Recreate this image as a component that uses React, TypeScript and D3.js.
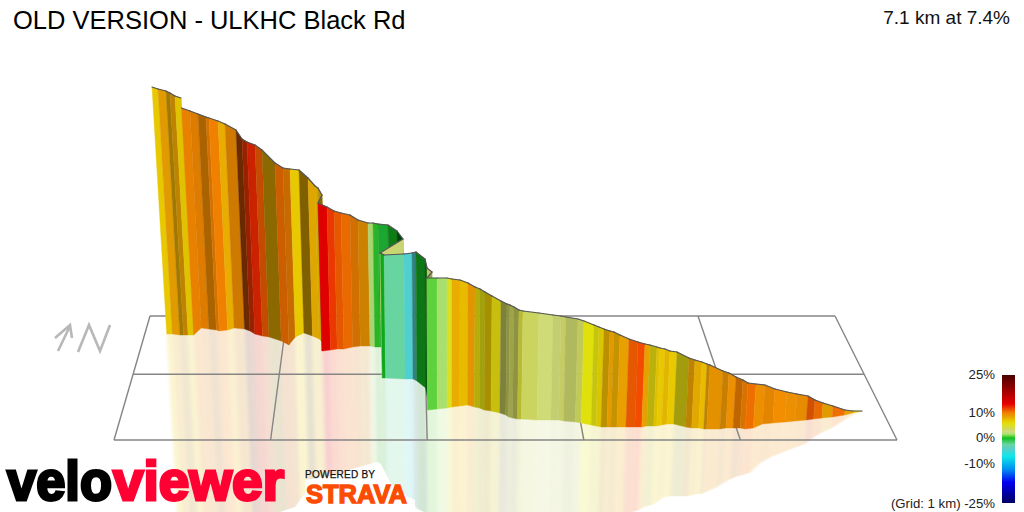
import React from "react";
import * as d3 from "d3";

// Projected profile: one entry per road sample along the climb
const edgeX = [152,158,166,170,175,181,181.5,190,198,206,209,218,225,236,242,247,255,262,275,283,290,299,308,315,318,322,318,327,334,341,350,358,368,373,378,388,397,403,380,380.5,384,404,412,416,425,427,432,427,437,447,452,460,468,475,480,485,492,501,507,510,514,519,523,539,553,561,566,578,584,594,599,604,610,614,620,629,638,645,650,657,660,665,670,677,689,695,702,707,710,723,729,736,743,748,756,765,775,787,797,808,815,823,833,845,853,862];
const edgeTop = [87,89,91,93,96,98,108,111,114,117,118,121,124,130,139,142,145,150,163,168,169,170,178,186,188,195,203,207,211,213,215,220,223,223,224,225,231,239,253,253,255,254,253,252,259,268,272,278,278,278,279,280,283,287,289,292,296,301,304,305,307,310,311,313,315,316,317,319,321,325,327,329,331,332,335,339,342,344,345,347,348,349,351,352,358,360,362,364,365,371,373,377,380,383,384,385,389,392,394,396,400,403,406,410,411,411];
const edgeBase = [334,334,335,335,335,335,335,328,329,330,331,330,328,329,331,334,336,337,341,345,337,333,336,339,342,344,351,350,349,349,347,346,346,347,347,347,347,347,347,378,378,379,379,381,388,400,405,410,409,408,407,406,405,407,408,410,411,413,415,417,418,419,419,420,420,420,421,422,423,425,426,427,427,427,427,427,427,427,426,426,426,425,424,424,427,428,428,429,429,429,428,428,428,429,428,424,423,422,421,420,419,418,417,415,413,411];
// Gradient (%) and side lighting of each strip between two samples
const grade = [7,8.5,8,8.5,7,7,9.8,9.8,9.5,10,10,8,9.5,11,12,12.5,11,8,10.5,10,7,8,8,7.5,8,8,13.5,12,11,10.5,10,9,1.8,0.3,-0.5,0,0,2.8,2.8,0,-2.5,-4.5,-4.5,0,0,3,3,0.8,1.5,5,8,7.5,8.8,6,5.5,7,6,3.5,3.5,3.5,3.5,4.5,3.4,2.8,2.8,3.2,3,3.5,5.5,5.5,6.5,7.8,8.5,8,8.5,11,11.5,8.5,6,7,7,7.5,7,6,8.5,8,7.5,8.5,9,9,9.3,10,10,10.5,9.3,9.5,9.5,9.3,9.3,11,10.5,8.5,10.5,8.5,7];
const light = [1,0.97,0.7,0.82,0.97,0.97,0.97,0.93,0.72,0.88,1,1,0.87,0.45,0.65,0.87,0.83,0.6,0.85,0.83,1,0.55,0.96,0.9,0.8,0.6,0.97,1,0.97,0.97,0.87,0.87,0.95,0.9,0.85,0.65,0.35,0.97,0.97,0.88,1,1,0.62,0.62,0.45,0.9,0.75,0.97,1,1,1,1,0.97,0.8,0.72,0.72,0.88,0.6,0.68,0.76,0.68,0.85,0.98,1,0.94,0.94,0.85,0.93,1,0.88,0.95,0.8,0.97,0.85,1,0.97,1.03,1,0.82,0.96,1,0.97,1,0.72,0.82,0.97,1,0.82,0.97,0.85,1,0.8,0.9,1,1,0.96,1.02,1,0.98,0.88,0.97,0.97,1,1,1];

// Colour ramp of the legend
const rampGrades = [25,17,13.5,12,10,8.5,7,5.5,3.5,2.5,1.5,0.8,0,-2.5,-4.5,-7,-12,-17,-25];
const rampColors = ["#4a0000","#b80000","#e60000","#ea3800","#f08000","#e8a000","#e8c800","#e0e010","#d0d860","#cfdc80","#a8e070","#60d840","#10c020","#68d4a0","#50d0d0","#10e8e8","#0090f0","#0000f0","#000060"];
const legendTicks = [25,10,0,-10,-25];

// Grid
const gridKm = [0,1,2,3,4,5];
const gridRows = [0,0.47,1];

const title = "OLD VERSION - ULKHC Black Rd";
const summary = "7.1 km at 7.4%";
const gridNote = "(Grid: 1 km)";

const W = 1024, H = 512;
const px = d3.scaleLinear([0, W], [0, W]);
const py = d3.scaleLinear([0, H], [0, H]);
const color = d3.scaleLinear<string>().domain(rampGrades).range(rampColors).interpolate(d3.interpolateRgb);
const legendY = d3.scaleLinear([25, 0, -25], [375, 438, 503]);
const rowY = d3.scaleLinear([0, 1], [316, 440]);
const backX = d3.scaleLinear([0, 5], [150, 835]);
const frontX = d3.scaleLinear([0, 5], [114, 897]);

// Perspective lean of a vertical post standing at x with height h
const lean = (x: number, h: number) => ((450 - x) * h) / 5000;
const line = d3.line<[number, number]>();

function shaded(g: number, l: number) {
  const c = d3.rgb(color(g));
  return d3.rgb(Math.min(255, c.r * l), Math.min(255, c.g * l), Math.min(255, c.b * l)).formatHex();
}

function App() {
  const strips = grade.map((g, i) => {
    const h0 = edgeBase[i] - edgeTop[i], h1 = edgeBase[i + 1] - edgeTop[i + 1];
    const tx0 = edgeX[i], tx1 = edgeX[i + 1];
    const bx0 = tx0 + lean(tx0, h0), bx1 = tx1 + lean(tx1, h1);
    const fill = shaded(g, light[i]);
    const wall: [number, number][] = [[px(tx0), py(edgeTop[i])], [px(tx1), py(edgeTop[i + 1])], [px(bx1), py(edgeBase[i + 1])], [px(bx0), py(edgeBase[i])]];
    const mirror: [number, number][] = [[px(bx0), py(edgeBase[i])], [px(bx1), py(edgeBase[i + 1])], [px(bx1 + lean(tx1, h1)), py(edgeBase[i + 1] + h1)], [px(bx0 + lean(tx0, h0)), py(edgeBase[i] + h0)]];
    const jump = Math.abs(tx1 - tx0) < 1 && Math.abs(edgeTop[i + 1] - edgeTop[i]) > 5;
    const ridge: [number, number][] = [[px(tx0), py(edgeTop[i])], [px(tx1), py(edgeTop[i + 1])]];
    return { fill, wall, mirror, ridge, jump };
  });
  const sans = "'Liberation Sans', Arial, sans-serif";
  return (
    <svg width={W} height={H} viewBox={`0 0 ${W} ${H}`} style={{ position: "fixed", left: 0, top: 0, background: "#fff" }}>
      <defs>
        <linearGradient id="ramp" x1="0" y1="0" x2="0" y2="1">
          {rampGrades.map((g, i) => (
            <stop key={g} offset={(legendY(g) - legendY(25)) / (legendY(-25) - legendY(25))} stopColor={rampColors[i]} />
          ))}
        </linearGradient>
        <filter id="soft" filterUnits="userSpaceOnUse" x={0} y={0} width={W} height={H}>
          <feGaussianBlur stdDeviation="0.7 0.2" />
        </filter>
        <filter id="softer" filterUnits="userSpaceOnUse" x={0} y={0} width={W} height={H}>
          <feGaussianBlur stdDeviation="1.4 0.3" />
        </filter>
      </defs>
      <text x={13} y={29} fontFamily={sans} fontSize={25.5} fill="#000">{title}</text>
      <text x={1010} y={24} textAnchor="end" fontFamily={sans} fontSize={19} fill="#111">{summary}</text>

      <g opacity={0.18} filter="url(#softer)">
        {strips.map((s, i) => (
          <path key={i} d={line(s.mirror)! + "Z"} fill={s.fill} stroke={s.fill} strokeWidth={0.4} />
        ))}
      </g>

      <g fill="none" stroke="#858585" strokeWidth={1.4}>
        {gridRows.map((r) => (
          <line key={r} x1={d3.interpolateNumber(backX(0), frontX(0))(r)} x2={d3.interpolateNumber(backX(5), frontX(5))(r)} y1={rowY(r)} y2={rowY(r)} />
        ))}
        {gridKm.map((k) => (
          <line key={k} x1={backX(k)} y1={rowY(0)} x2={frontX(k)} y2={rowY(1)} />
        ))}
      </g>

      <g filter="url(#soft)">
        {strips.map((s, i) => (
          <path key={i} d={line(s.wall)! + "Z"} fill={s.fill} stroke={s.fill} strokeWidth={0.4} />
        ))}
      </g>
      <g fill="none" stroke="#555" strokeWidth={1.2} strokeLinecap="round">
        {strips.map((s, i) => (s.jump ? null : <path key={i} d={line(s.ridge)!} />))}
      </g>

      <g fill="none" stroke="#b8b8b8" strokeWidth={2.6} strokeLinejoin="miter">
        <path d="M58 351L70 326M55 338L70 325L72 338" />
        <path d="M78 352L89 325L100 351L110 325" />
      </g>

      <rect x={1002} y={legendY(25)} width={13} height={legendY(-25) - legendY(25)} fill="url(#ramp)" />
      {legendTicks.map((t) => (
        <text key={t} x={995} y={legendY(t) + (t === -25 ? 5 : 4)} textAnchor="end" fontFamily={sans} fontSize={13.2} fill="#222">{t === -25 ? `${gridNote} ${t}%` : `${t}%`}</text>
      ))}

      <path d="M280 512L295 507L305 493L305 480L337 475L352 469L377 462L381 464L390 482L408 497L415 500L415 508L424 512Z" fill="#fff" />
      <g fontFamily={sans} fontWeight={700}>
        <text x={7} y={500} fontSize={56} textLength={105} lengthAdjust="spacingAndGlyphs" fill="#000" stroke="#000" strokeWidth={3}>velo</text>
        <text x={113} y={500} fontSize={56} textLength={171} lengthAdjust="spacingAndGlyphs" fill="#ff0033" stroke="#ff0033" strokeWidth={3}>viewer</text>
        <text x={305} y={478} fontSize={10} textLength={70} fill="#111" fontWeight={400} stroke="#111" strokeWidth={0.25}>POWERED BY</text>
        <text x={306} y={503} fontSize={26} textLength={101} lengthAdjust="spacingAndGlyphs" fill="#fc4c02" stroke="#fc4c02" strokeWidth={1.4}>STRAVA</text>
      </g>
    </svg>
  );
}

export default App;
